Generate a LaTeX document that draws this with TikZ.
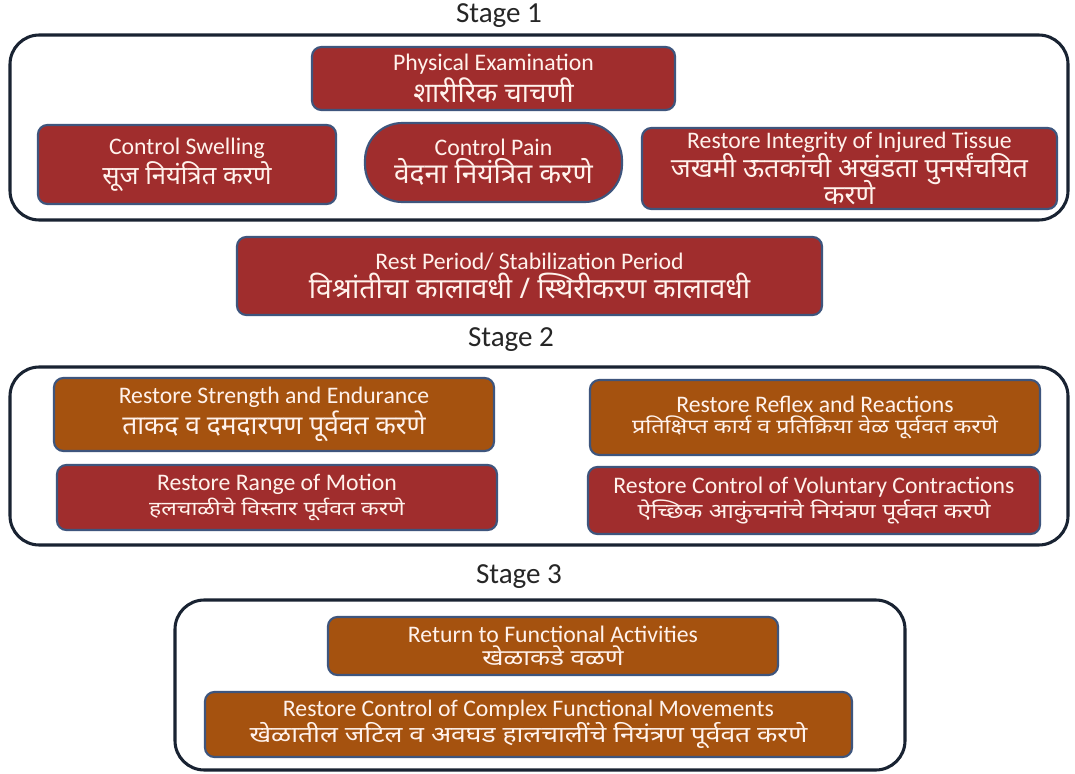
\documentclass[tikz,border=0pt]{standalone}
\usepackage{fontspec}
\setmainfont{Carlito}
\newfontfamily\deva[Script=Devanagari]{Noto Sans}
\newfontfamily\devawide[Script=Devanagari,FakeStretch=1.18]{Noto Sans}
\definecolor{boxred}{RGB}{160,45,45}
\definecolor{boxorange}{RGB}{165,82,15}
\definecolor{boxborder}{RGB}{62,85,125}
\definecolor{framecol}{RGB}{25,35,50}
\definecolor{txt}{RGB}{255,242,236}
\newcommand{\en}[1]{{\fontsize{17.8}{19}\selectfont #1}}
\newcommand{\mrbig}[2][19]{{\deva\bfseries\fontsize{#1}{22}\selectfont #2}}
\newcommand{\mrsmall}[2][15]{{\devawide\fontsize{#1}{19}\selectfont #2}}
\begin{document}
\begin{tikzpicture}[x=0.75pt,y=-0.75pt,
  wh/.style 2 args={minimum width=#1*0.75pt, minimum height=#2*0.75pt},
  card/.style={draw=boxborder, line width=1.6pt, rounded corners=7pt, text=txt,
    align=center, inner sep=0pt},
  redcard/.style={card, fill=boxred},
  orcard/.style={card, fill=boxorange},
  frame/.style={draw=framecol, line width=2.3pt, rounded corners=22pt},
  stagelbl/.style={font=\fontsize{21.8}{24}\selectfont, text=black!85, inner sep=0pt}]
\useasboundingbox[fill=white] (0,0) rectangle (1075,774);

% frames
\draw[frame] (10,35) rectangle (1068,220);
\draw[frame] (10,367) rectangle (1068,545);
\draw[frame] (175,600) rectangle (905,770);

% stage labels
\node[stagelbl] (s1) at (499,16) {Stage 1};
\node[stagelbl] (s2) at (511,340) {Stage 2};
\node[stagelbl] (s3) at (519,577) {Stage 3};

% stage 1
\node[redcard, wh={363}{63}] (pe) at (493.5,78.5)
  {\en{Physical Examination}\\[1pt]\mrbig[20.7]{शारीरिक चाचणी}};
\node[redcard, wh={298}{79}] (cs) at (187,164.5)
  {\en{Control Swelling}\\[1pt]\mrbig[19.2]{सूज नियंत्रित करणे}};
\node[redcard, wh={257}{79}, rounded corners=28pt] (cp) at (493.5,162.5)
  {\en{Control Pain}\\[1pt]\mrbig[21]{वेदना नियंत्रित करणे}};
\node[redcard, wh={415}{81}] (ri) at (849.5,168.5)
  {\en{Restore Integrity of Injured Tissue}\\[-1pt]\mrbig[20.2]{जखमी ऊतकांची अखंडता पुनर्संचयित}\\[-4pt]\mrbig[20.2]{करणे}};

% rest period
\node[redcard, wh={585}{78}] (rp) at (529.5,276)
  {\en{Rest Period/ Stabilization Period}\\[1pt]\mrbig[21.3]{विश्रांतीचा कालावधी / स्थिरीकरण कालावधी}};

% stage 2
\node[orcard, wh={440}{73}] (rs) at (274,414.5)
  {\en{Restore Strength and Endurance}\\[1pt]\mrbig[19.8]{ताकद व दमदारपण पूर्ववत करणे}};
\node[orcard, wh={450}{75}] (rr) at (815,417.5)
  {\en{Restore Reflex and Reactions}\\[1pt]\mrsmall[14.8]{प्रतिक्षिप्त कार्य व प्रतिक्रिया वेळ पूर्ववत करणे}};
\node[redcard, wh={440}{65}] (rm) at (277,497.5)
  {\en{Restore Range of Motion}\\[1pt]\mrsmall[14.6]{हलचाळीचे विस्तार पूर्ववत करणे}};
\node[redcard, wh={452}{67}] (rv) at (814,500.5)
  {\en{Restore Control of Voluntary Contractions}\\[1pt]\mrsmall[15.6]{ऐच्छिक आकुंचनांचे नियंत्रण पूर्ववत करणे}};

% stage 3
\node[orcard, wh={450}{58}] (rf) at (553,646)
  {\en{Return to Functional Activities}\\[1pt]{\devawide\bfseries\fontsize{16.5}{19}\selectfont खेळाकडे वळणे}};
\node[orcard, wh={647}{65}] (rc) at (528.5,724.5)
  {\en{Restore Control of Complex Functional Movements}\\[1pt]\mrsmall[16.8]{खेळातील जटिल व अवघड हालचालींचे नियंत्रण पूर्ववत करणे}};
\end{tikzpicture}
\end{document}
